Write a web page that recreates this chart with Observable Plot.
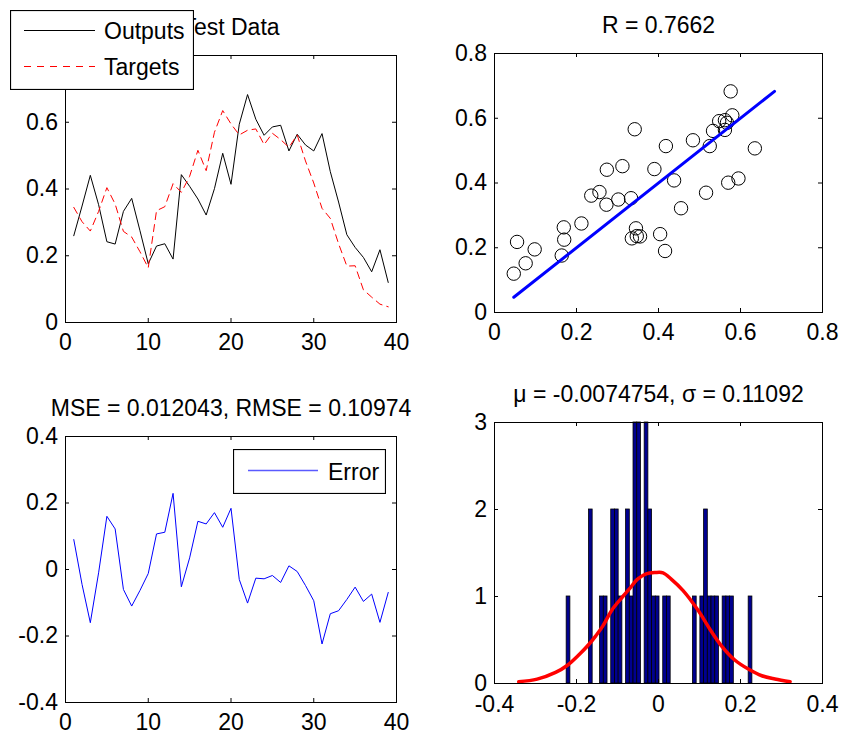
<!DOCTYPE html>
<html>
<head>
<meta charset="utf-8">
<script src="https://cdn.jsdelivr.net/npm/d3@7"></script>
<script src="https://cdn.jsdelivr.net/npm/@observablehq/plot@0.6"></script>
<style>
  html, body { margin: 0; padding: 0; background: #fff; }
  #chart { position: relative; width: 842px; height: 736px; overflow: hidden; background: #fff;
           font-family: "Liberation Sans", Arial, Helvetica, sans-serif; }
  .panel { position: absolute; }
  .legend { position: absolute; }
</style>
</head>
<body>
<div id="chart"></div>
<script>
// ---------------- data ----------------
const steps = [1,2,3,4,5,6,7,8,9,10,11,12,13,14,15,16,17,18,19,20,21,22,23,24,25,26,27,28,29,30,31,32,33,34,35,36,37,38,39];
const outputs = [0.260,0.349,0.441,0.353,0.242,0.235,0.333,0.372,0.275,0.176,0.229,0.236,0.190,0.443,0.408,0.370,0.322,0.401,0.507,0.414,0.594,0.683,0.609,0.561,0.586,0.591,0.514,0.564,0.532,0.514,0.566,0.452,0.361,0.263,0.225,0.195,0.152,0.218,0.120];
const targets = [0.345,0.302,0.274,0.333,0.404,0.355,0.273,0.256,0.212,0.164,0.335,0.347,0.416,0.390,0.438,0.516,0.455,0.570,0.635,0.595,0.562,0.576,0.580,0.533,0.567,0.548,0.525,0.562,0.484,0.418,0.342,0.312,0.236,0.169,0.170,0.098,0.076,0.055,0.047];
const errors = [0.090,-0.045,-0.160,-0.010,0.160,0.122,-0.060,-0.110,-0.063,-0.012,0.107,0.112,0.229,-0.052,0.035,0.145,0.137,0.171,0.127,0.184,-0.030,-0.101,-0.026,-0.028,-0.018,-0.039,0.011,-0.006,-0.048,-0.094,-0.224,-0.133,-0.124,-0.090,-0.053,-0.096,-0.074,-0.159,-0.069];
// error histogram: 50 bins between min and max error
const histCounts = [1,0,0,0,0,0,2,0,0,1,1,0,2,2,1,0,2,1,3,3,0,3,2,1,1,0,1,1,0,0,0,0,0,0,1,0,1,2,1,1,1,0,1,1,1,0,0,0,0,1];
// fitted normal curve
const normX = [-0.341,-0.296,-0.251,-0.222,-0.194,-0.169,-0.153,-0.136,-0.112,-0.087,-0.071,-0.051,-0.030,-0.008,0.011,0.031,0.060,0.097,0.125,0.154,0.186,0.219,0.252,0.284,0.321];
const normY = [0.020,0.050,0.127,0.210,0.330,0.454,0.548,0.660,0.857,1.000,1.087,1.200,1.260,1.275,1.272,1.200,1.068,0.838,0.627,0.430,0.270,0.166,0.089,0.051,0.020];

const titleTL = "Test Data";
const titleTR = "R = 0.7662";
const titleBL = "MSE = 0.012043, RMSE = 0.10974";
const titleBR = "\u03bc = -0.0074754, \u03c3 = 0.11092";
const legendTL = ["Outputs", "Targets"];
const legendBL = ["Error"];

const ticksSeries = [0, 10, 20, 30, 40];
const ticksTL_y = [0, 0.2, 0.4, 0.6, 0.8];
const ticksTR = [0, 0.2, 0.4, 0.6, 0.8];
const ticksBL_y = [-0.4, -0.2, 0, 0.2, 0.4];
const ticksBR_x = [-0.4, -0.2, 0, 0.2, 0.4];
const ticksBR_y = [0, 1, 2, 3];

// ---------------- helpers ----------------
const FONT = '"Liberation Sans", Arial, Helvetica, sans-serif';
const FS = 23;
const chart = document.getElementById("chart");
const fmt = d => String(d);

function panel({left, top, width, height, mt, mr, mb, ml, xDomain, yDomain, xTicks, yTicks, title, marks, xPad = 11.5}) {
  const H = height - mt - mb;
  const W = width - ml - mr;
  const tl = 4;
  const svg = Plot.plot({
    width, height,
    marginTop: mt, marginRight: mr, marginBottom: mb, marginLeft: ml,
    style: {fontFamily: FONT, fontSize: FS + "px", color: "black", background: "transparent", overflow: "visible"},
    x: {domain: xDomain, label: null},
    y: {domain: yDomain, label: null},
    marks: [
      ...marks,
      Plot.frame({stroke: "black", strokeWidth: 1}),
      Plot.tickX(xTicks, {x: d => d, insetTop: H - tl, stroke: "black", strokeWidth: 1}),
      Plot.tickX(xTicks, {x: d => d, insetBottom: H - tl, stroke: "black", strokeWidth: 1}),
      Plot.tickY(yTicks, {y: d => d, insetRight: W - tl, stroke: "black", strokeWidth: 1}),
      Plot.tickY(yTicks, {y: d => d, insetLeft: W - tl, stroke: "black", strokeWidth: 1}),
      Plot.axisX(xTicks, {tickSize: 0, tickPadding: xPad, tickFormat: fmt, fontSize: FS, label: null}),
      Plot.axisY(yTicks, {tickSize: 0, tickPadding: 7.5, tickFormat: fmt, fontSize: FS, label: null}),
      Plot.text([title], {frameAnchor: "top", lineAnchor: "bottom", dy: -21, fontSize: FS, fill: "black"})
    ]
  });
  svg.classList.add("panel");
  svg.style.left = left + "px";
  svg.style.top = top + "px";
  chart.appendChild(svg);
}

const rows = steps.map((s, i) => ({s, o: outputs[i], t: targets[i], e: errors[i]}));

// Top-left: outputs vs targets series
panel({
  left: 0, top: 0, width: 421, height: 368, mt: 55, mr: 25, mb: 46, ml: 65,
  xDomain: [0, 40], yDomain: [0, 0.8], xTicks: ticksSeries, yTicks: ticksTL_y, title: titleTL,
  marks: [
    Plot.line(rows, {x: "s", y: "o", stroke: "black", strokeWidth: 1}),
    Plot.line(rows, {x: "s", y: "t", stroke: "red", strokeWidth: 1, strokeDasharray: "7,5"})
  ]
});

// Top-right: regression scatter
const lo = Math.min(d3.min(targets), d3.min(outputs));
const hi = Math.max(d3.max(targets), d3.max(outputs));
panel({
  left: 421, top: 0, width: 421, height: 368, mt: 53, mr: 20, mb: 56, ml: 73,
  xDomain: [0, 0.8], yDomain: [0, 0.8], xTicks: ticksTR, yTicks: ticksTR, title: titleTR,
  marks: [
    Plot.dot(rows, {x: "t", y: "o", r: 6.7, stroke: "black", strokeWidth: 1, fill: "none"}),
    Plot.line([lo, hi], {x: d => d, y: d => d, stroke: "blue", strokeWidth: 3})
  ]
});

// Bottom-left: error series
panel({
  left: 0, top: 368, width: 421, height: 368, mt: 68, mr: 25, mb: 34, ml: 65,
  xDomain: [0, 40], yDomain: [-0.4, 0.4], xTicks: ticksSeries, yTicks: ticksBL_y, title: titleBL,
  marks: [
    Plot.line(rows, {x: "s", y: "e", stroke: "blue", strokeWidth: 1})
  ]
});

// Bottom-right: histogram with normal fit
const [eMin, eMax] = d3.extent(errors);
const binW = (eMax - eMin) / histCounts.length;
const bins = histCounts.map((c, k) => ({x1: eMin + k * binW, x2: eMin + (k + 1) * binW, c})).filter(d => d.c > 0);
const normRows = normX.map((x, i) => ({x, y: normY[i]}));
panel({
  left: 421, top: 368, width: 421, height: 368, mt: 54, mr: 20, mb: 53, ml: 73,
  xDomain: [-0.4, 0.4], yDomain: [0, 3], xTicks: ticksBR_x, yTicks: ticksBR_y, title: titleBR, xPad: 12.5,
  marks: [
    Plot.rectY(bins, {x1: "x1", x2: "x2", y: "c", fill: "#00008f", stroke: "black", strokeWidth: 0.8}),
    Plot.line(normRows, {x: "x", y: "y", stroke: "red", strokeWidth: 3.5, curve: "catmull-rom"})
  ]
});

// ---------------- legends ----------------
const NS = "http://www.w3.org/2000/svg";
function legend(left, top, w, h, items) {
  const svg = document.createElementNS(NS, "svg");
  svg.setAttribute("width", w);
  svg.setAttribute("height", h);
  svg.setAttribute("class", "legend");
  svg.style.left = left + "px";
  svg.style.top = top + "px";
  const rect = document.createElementNS(NS, "rect");
  rect.setAttribute("x", 0.5); rect.setAttribute("y", 0.5);
  rect.setAttribute("width", w - 1); rect.setAttribute("height", h - 1);
  rect.setAttribute("fill", "white"); rect.setAttribute("stroke", "black"); rect.setAttribute("stroke-width", 1.2);
  svg.appendChild(rect);
  for (const it of items) {
    const ln = document.createElementNS(NS, "line");
    ln.setAttribute("x1", it.x1); ln.setAttribute("x2", it.x2);
    ln.setAttribute("y1", it.y); ln.setAttribute("y2", it.y);
    ln.setAttribute("stroke", it.stroke); ln.setAttribute("stroke-width", it.sw || 1);
    if (it.dash) ln.setAttribute("stroke-dasharray", it.dash);
    svg.appendChild(ln);
    const tx = document.createElementNS(NS, "text");
    tx.setAttribute("x", it.tx); tx.setAttribute("y", it.ty);
    tx.setAttribute("font-family", FONT); tx.setAttribute("font-size", FS);
    tx.setAttribute("fill", "black");
    tx.textContent = it.label;
    svg.appendChild(tx);
  }
  chart.appendChild(svg);
}
legend(10, 10, 184, 80, [
  {x1: 14, x2: 85, y: 20.5, stroke: "black", label: legendTL[0], tx: 94, ty: 28.5},
  {x1: 14, x2: 85, y: 56.5, stroke: "red", dash: "7,6", label: legendTL[1], tx: 94, ty: 65}
]);
legend(233, 449, 153, 45, [
  {x1: 15, x2: 85, y: 21.5, stroke: "#5a5aff", sw: 1.3, label: legendBL[0], tx: 95, ty: 30.5}
]);
</script>
</body>
</html>
